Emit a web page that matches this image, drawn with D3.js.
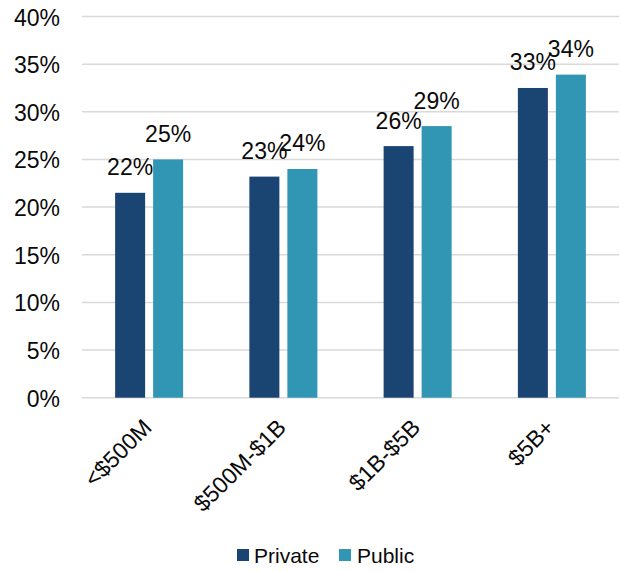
<!DOCTYPE html>
<html>
<head>
<meta charset="utf-8">
<script src="https://cdn.jsdelivr.net/npm/d3@7"></script>
<style>
  html, body { margin: 0; padding: 0; background: #ffffff; }
  svg { display: block; }
  text { font-family: "Liberation Sans", Arial, Helvetica, sans-serif; fill: #0a0a0a; }
</style>
</head>
<body>
<script>
// ---- data ----
const categories = ["<$500M", "$500M-$1B", "$1B-$5B", "$5B+"];
const seriesNames = ["Private", "Public"];
const privateValues = [21.5, 23.2, 26.4, 32.5];
const publicValues = [25.0, 24.0, 28.5, 33.9];
const privateLabels = ["22%", "23%", "26%", "33%"];
const publicLabels = ["25%", "24%", "29%", "34%"];
const yTicks = [0, 5, 10, 15, 20, 25, 30, 35, 40];
const colors = { Private: "#1a4472", Public: "#3195b4" };

const W = 621, H = 571;
const plotLeft = 82, plotRight = 619, plotTop = 16.5, plotBottom = 397.7;

const svg = d3.select("body").append("svg").attr("width", W).attr("height", H);

const y = d3.scaleLinear().domain([0, 40]).range([plotBottom, plotTop]);
const x0 = d3.scaleBand().domain(categories).range([plotLeft, plotRight]).paddingInner(0).paddingOuter(0);
const groupW = 68;
const x1 = d3.scaleBand().domain(seriesNames).range([0, groupW]).paddingInner(8 / 38).paddingOuter(0);

// gridlines
svg.append("g").selectAll("line").data(yTicks).join("line")
  .attr("x1", plotLeft).attr("x2", plotRight)
  .attr("y1", d => y(d)).attr("y2", d => y(d))
  .attr("stroke", "#d9d9d9").attr("stroke-width", 1.5);

// y tick labels
svg.append("g").selectAll("text").data(yTicks).join("text")
  .attr("x", 60).attr("y", d => y(d) + 9)
  .attr("text-anchor", "end").attr("font-size", 23)
  .text(d => d + "%");

const data = categories.map((c, i) => ({
  cat: c,
  vals: [
    { s: "Private", v: privateValues[i], label: privateLabels[i] },
    { s: "Public", v: publicValues[i], label: publicLabels[i] }
  ]
}));

const groups = svg.append("g").selectAll("g").data(data).join("g")
  .attr("transform", d => `translate(${x0(d.cat) + (x0.bandwidth() - groupW) / 2},0)`);

groups.selectAll("rect").data(d => d.vals).join("rect")
  .attr("x", d => x1(d.s)).attr("width", x1.bandwidth())
  .attr("y", d => y(d.v)).attr("height", d => y(0) - y(d.v))
  .attr("fill", d => colors[d.s]);

groups.selectAll("text.lbl").data(d => d.vals).join("text")
  .attr("class", "lbl")
  .attr("x", d => x1(d.s) + x1.bandwidth() / 2)
  .attr("y", d => y(d.v) - 17.5)
  .attr("text-anchor", "middle").attr("font-size", 23)
  .text(d => d.label);

// x axis labels rotated
svg.append("g").selectAll("text").data(categories).join("text")
  .attr("transform", d => `translate(${x0(d) + x0.bandwidth() / 2 + 4},429) rotate(-45)`)
  .attr("text-anchor", "end").attr("font-size", 23)
  .text(d => d);

// legend
const legendItems = [
  { s: "Private", sx: 237, tx: 254 },
  { s: "Public", sx: 339, tx: 357 }
];
const lg = svg.append("g");
lg.selectAll("rect").data(legendItems).join("rect")
  .attr("x", d => d.sx).attr("y", 549).attr("width", 12).attr("height", 12)
  .attr("fill", d => colors[d.s]);
lg.selectAll("text").data(legendItems).join("text")
  .attr("x", d => d.tx).attr("y", 563).attr("font-size", 21)
  .text(d => d.s);
</script>
</body>
</html>
